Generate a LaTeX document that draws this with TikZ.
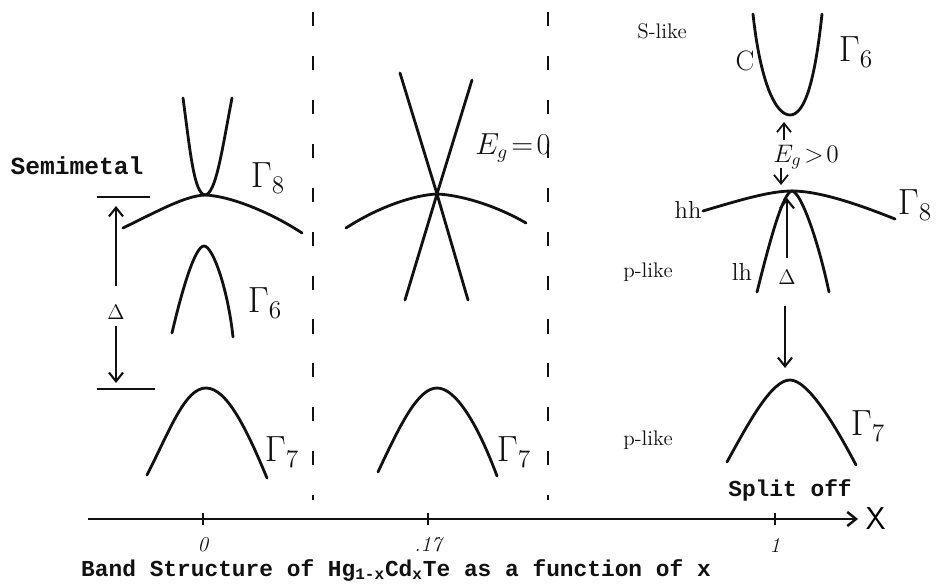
\documentclass[tikz,border=0pt]{standalone}
\usepackage{fontspec}
\setmonofont{Liberation Mono}
\usetikzlibrary{positioning,arrows.meta}
\definecolor{tinta}{HTML}{111111}
\tikzset{banda/.style={tinta,line width=1.6pt,line cap=round},
         sep/.style={tinta,line width=1.3pt,dash pattern=on 8pt off 17pt},
         gam/.style={font=\fontsize{20}{20}\selectfont,tinta},
         mano/.style={font=\fontsize{13}{13}\selectfont,tinta},
         maq/.style={font=\fontsize{13}{15}\selectfont\ttfamily\bfseries,tinta},
         flecha/.style={-{Straight Barb[length=5pt,width=8pt]},tinta,line width=1.2pt}}

\begin{document}
\begin{tikzpicture}[x=0.02cm,y=-0.02cm]
  \useasboundingbox (0,0) rectangle (936,587);
  % eje x
  \coordinate (ejeA) at (88,519);
  \coordinate (ejeB) at (858,519);
  \draw[flecha,line width=1.4pt] (ejeA) -- (ejeB);
  \node[font=\fontsize{18}{18}\selectfont\sffamily,right=1pt of ejeB] (X) {X};
  \foreach \nom/\x/\t in {c0/203/0,c17/428/.17,c1/775/1}{
    \draw[tinta,line width=1pt] (\x,513) -- (\x,525);
    \node[mano,font=\fontsize{12}{12}\selectfont\itshape] (\nom) at (\x,545) {\t};}
  \node[maq] (titulo) at (396,570) {Band Structure of Hg\textsubscript{1-x}Cd\textsubscript{x}Te as a function of x};
  % separadores
  \coordinate (s1a) at (313,12); \coordinate (s1b) at (313,500);
  \coordinate (s2a) at (548,12); \coordinate (s2b) at (548,500);
  \draw[sep] (s1a) -- (s1b);
  \draw[sep] (s2a) -- (s2b);
  % x = 0, semimetal
  \coordinate (g8a) at (205,195);
  \coordinate (g6a) at (204,246);
  \coordinate (g7a) at (206,388);
  \draw[banda] (183,98) .. controls (190,150) and (194,194) .. (g8a) .. controls (216,194) and (222,150) .. (232,98);
  \draw[banda] (123,228) .. controls (160,210) and (185,196) .. (g8a) .. controls (230,196) and (270,212) .. (302,233);
  \draw[banda] (172,333) .. controls (182,290) and (195,246) .. (g6a) .. controls (213,246) and (228,290) .. (233,337);
  \draw[banda] (147,475) .. controls (170,430) and (185,388) .. (g7a) .. controls (227,388) and (247,430) .. (267,478);
  \node[maq,font=\fontsize{14}{14}\selectfont\ttfamily\bfseries] (semi) at (77,166) {Semimetal};
  \node[gam] (G8a) at (268,178) {$\Gamma_8$};
  \node[gam] (G6a) at (265,303) {$\Gamma_6$};
  \node[gam] (G7a) at (282,452) {$\Gamma_7$};
  \coordinate (h1a) at (97,197); \coordinate (h1b) at (150,197);
  \coordinate (h2a) at (97,389); \coordinate (h2b) at (155,389);
  \draw[tinta,line width=1.3pt] (h1a) -- (h1b);
  \draw[tinta,line width=1.3pt] (h2a) -- (h2b);
  \node[font=\fontsize{13}{13}\selectfont,tinta] (Da) at (116,312) {$\Delta$};
  \coordinate (dLa) at (116,286); \coordinate (dLb) at (116,206);
  \coordinate (dLc) at (116,326); \coordinate (dLd) at (116,383);
  \draw[flecha] (dLa) -- (dLb);
  \draw[flecha] (dLc) -- (dLd);
  % x = .17, Eg = 0
  \coordinate (cruce) at (437,194);
  \coordinate (g7b) at (437,388);
  \draw[banda] (400,73) -- (cruce) -- (468,300);
  \draw[banda] (472,80) -- (cruce) -- (405,300);
  \draw[banda] (346,228) .. controls (380,206) and (415,195) .. (cruce) .. controls (460,195) and (495,205) .. (526,223);
  \draw[banda] (378,472) .. controls (400,425) and (418,388) .. (g7b) .. controls (456,388) and (478,425) .. (497,476);
  \node[gam] (G7b) at (514,452) {$\Gamma_7$};
  \node[mano,font=\fontsize{16}{16}\selectfont] (Eg0) at (513,148) {$E_g\!=\!0$};
  % x = 1, Eg > 0
  \coordinate (g6c) at (790,115);
  \coordinate (g8c) at (792,191);
  \coordinate (g7c) at (790,380);
  \draw[banda] (753,14) .. controls (760,80) and (775,115) .. (g6c) .. controls (805,115) and (815,80) .. (822,14);
  \draw[banda] (703,211) .. controls (740,200) and (770,191) .. (g8c) .. controls (820,191) and (860,205) .. (895,219);
  \draw[banda] (757,292) .. controls (770,240) and (783,192) .. (g8c) .. controls (801,192) and (818,240) .. (829,292);
  \draw[banda] (727,462) .. controls (750,420) and (772,380) .. (g7c) .. controls (808,380) and (835,425) .. (856,465);
  \node[gam] (G6c) at (856,52) {$\Gamma_6$};
  \node[gam] (G8c) at (915,205) {$\Gamma_8$};
  \node[gam] (G7c) at (868,426) {$\Gamma_7$};
  \node[mano,font=\fontsize{16}{16}\selectfont] (C) at (745,61) {C};
  \node[mano,font=\fontsize{14}{14}\selectfont] (hh) at (688,210) {hh};
  \node[mano,font=\fontsize{14}{14}\selectfont] (lh) at (742,272) {lh};
  \node[mano,font=\fontsize{14}{14}\selectfont] (Egp) at (806,157) {$E_g\!>\!0$};
  \coordinate (eA) at (784,140); \coordinate (eB) at (784,122);
  \coordinate (eC) at (781,168); \coordinate (eD) at (781,185);
  \draw[flecha,line width=1pt] (eA) -- (eB);
  \draw[flecha,line width=1pt] (eC) -- (eD);
  \node[font=\fontsize{13}{13}\selectfont,tinta] (Dc) at (787,277) {$\Delta$};
  \coordinate (dA) at (787,258); \coordinate (dB) at (787,198);
  \coordinate (dC) at (785,306); \coordinate (dD) at (785,368);
  \draw[flecha] (dA) -- (dB);
  \draw[flecha] (dC) -- (dD);
  \node[mano,font=\fontsize{12}{12}\selectfont] (slike) at (662,31) {S-like};
  \node[mano,font=\fontsize{12}{12}\selectfont] (plike1) at (648,272) {p-like};
  \node[mano,font=\fontsize{12}{12}\selectfont] (plike2) at (648,440) {p-like};
  \node[maq] (split) at (790,490) {Split off};
\end{tikzpicture}
\end{document}
